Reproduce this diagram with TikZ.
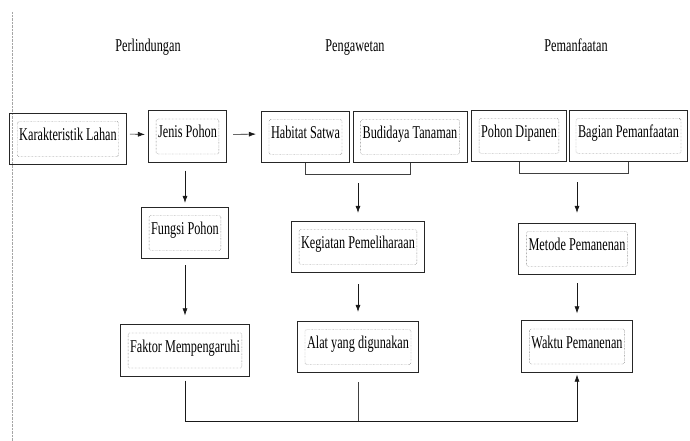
\documentclass[tikz,border=0pt]{standalone}
\usepackage{fontspec}
\setmainfont[FakeStretch=0.68]{Liberation Serif}
\usetikzlibrary{arrows.meta,fit,calc}
\tikzstyle{isi}=[draw=black!70, densely dotted, rounded corners=1.5pt, inner xsep=2pt, inner ysep=2pt, text height=17pt, text depth=14pt, font=\fontsize{18}{20}\selectfont]
\tikzstyle{kotak}=[draw=black!85, line width=0.9pt, inner xsep=7.5pt, inner ysep=8pt]
\tikzstyle{panah}=[-{Latex[length=7pt,width=5pt]}, black!90, line width=0.6pt]
\tikzstyle{garis}=[black!75, line width=0.6pt]

\begin{document}
\begin{tikzpicture} [x=1pt, y=-1pt]
%%frame
\useasboundingbox (0,0) rectangle (690,441);
\draw[black!35, densely dotted] (12,12) -- (12,441);
%%headers
\path (148,52) node[anchor=base, font=\fontsize{18}{20}\selectfont] (perlindungan) {Perlindungan};
\path (355,52) node[anchor=base, font=\fontsize{18}{20}\selectfont] (pengawetan) {Pengawetan};
\path (576,52) node[anchor=base, font=\fontsize{18}{20}\selectfont] (pemanfaatan) {Pemanfaatan};
%%row 1
\node[isi] (karakteristik-isi) at (68,139) {Karakteristik Lahan};
\node[kotak, fit=(karakteristik-isi)] (karakteristik) {};
\node[isi] (jenis-isi) at (187.5,136.5) {Jenis Pohon};
\node[kotak, fit=(jenis-isi)] (jenis) {};
\node[isi] (habitat-isi) at (305.5,137) {Habitat Satwa};
\node[kotak, fit=(habitat-isi)] (habitat) {};
\node[isi] (budidaya-isi) at (410,137) {Budidaya Tanaman};
\node[kotak, fit=(budidaya-isi)] (budidaya) {};
\node[isi] (dipanen-isi) at (519,136) {Pohon Dipanen};
\node[kotak, fit=(dipanen-isi)] (dipanen) {};
\node[isi] (bagian-isi) at (628.5,136) {Bagian Pemanfaatan};
\node[kotak, inner xsep=6.5pt, fit=(bagian-isi)] (bagian) {};
%%perlindungan
\node[isi] (fungsi-isi) at (185,233) {Fungsi Pohon};
\node[kotak, fit=(fungsi-isi)] (fungsi) {};
\node[isi] (faktor-isi) at (185,350.5) {Faktor Mempengaruhi};
\node[kotak, fit=(faktor-isi)] (faktor) {};
%%pengawetan
\node[isi] (kegiatan-isi) at (358,247) {Kegiatan Pemeliharaan};
\node[kotak, fit=(kegiatan-isi)] (kegiatan) {};
\node[isi] (alat-isi) at (358,347) {Alat yang digunakan};
\node[kotak, fit=(alat-isi)] (alat) {};
%%pemanfaatan
\node[isi] (metode-isi) at (577,249) {Metode Pemanenan};
\node[kotak, fit=(metode-isi)] (metode) {};
\node[isi] (waktu-isi) at (577,346.5) {Waktu Pemanenan};
\node[kotak, fit=(waktu-isi)] (waktu) {};
%%arrows row 1
\draw[panah, shorten <=3pt, shorten >=3pt] ([yshift=5pt]karakteristik.east) -- ([yshift=2pt]jenis.west);
\draw[panah, shorten <=6pt, shorten >=5pt] ([yshift=2pt]jenis.east) -- ([yshift=3pt]habitat.west);
%%arrows down
\draw[panah, shorten <=8pt, shorten >=4pt] (jenis.south -| fungsi.north) -- (fungsi.north);
\draw[panah, shorten <=6pt, shorten >=9pt] (fungsi) -- (faktor);
\draw[panah, shorten <=11pt, shorten >=9pt] (kegiatan) -- (alat);
\draw[panah, shorten <=8pt, shorten >=7pt] (metode) -- (waktu);
%%brackets
\draw[garis] (habitat.south) -- ++(0,11) -| (budidaya.south);
\draw[garis] (dipanen.south) -- ++(0,11) -| (bagian.south);
\coordinate (kurung-a) at ($(habitat.south)+(0,20)$);
\coordinate (kurung-b) at ($(dipanen.south)+(0,20)$);
\draw[panah, shorten >=8pt] (kurung-a -| kegiatan.north) -- (kegiatan.north);
\draw[panah, shorten >=10pt] (kurung-b -| metode.north) -- (metode.north);
%%bottom
\coordinate (bawah) at (0,421);
\draw[panah, shorten <=4pt, shorten >=2pt] (faktor.south) |- (waktu.south |- bawah) -- (waktu.south);
\draw[garis, shorten <=9pt] (alat.south) -- (alat.south |- bawah);
\end{tikzpicture}
\end{document}
